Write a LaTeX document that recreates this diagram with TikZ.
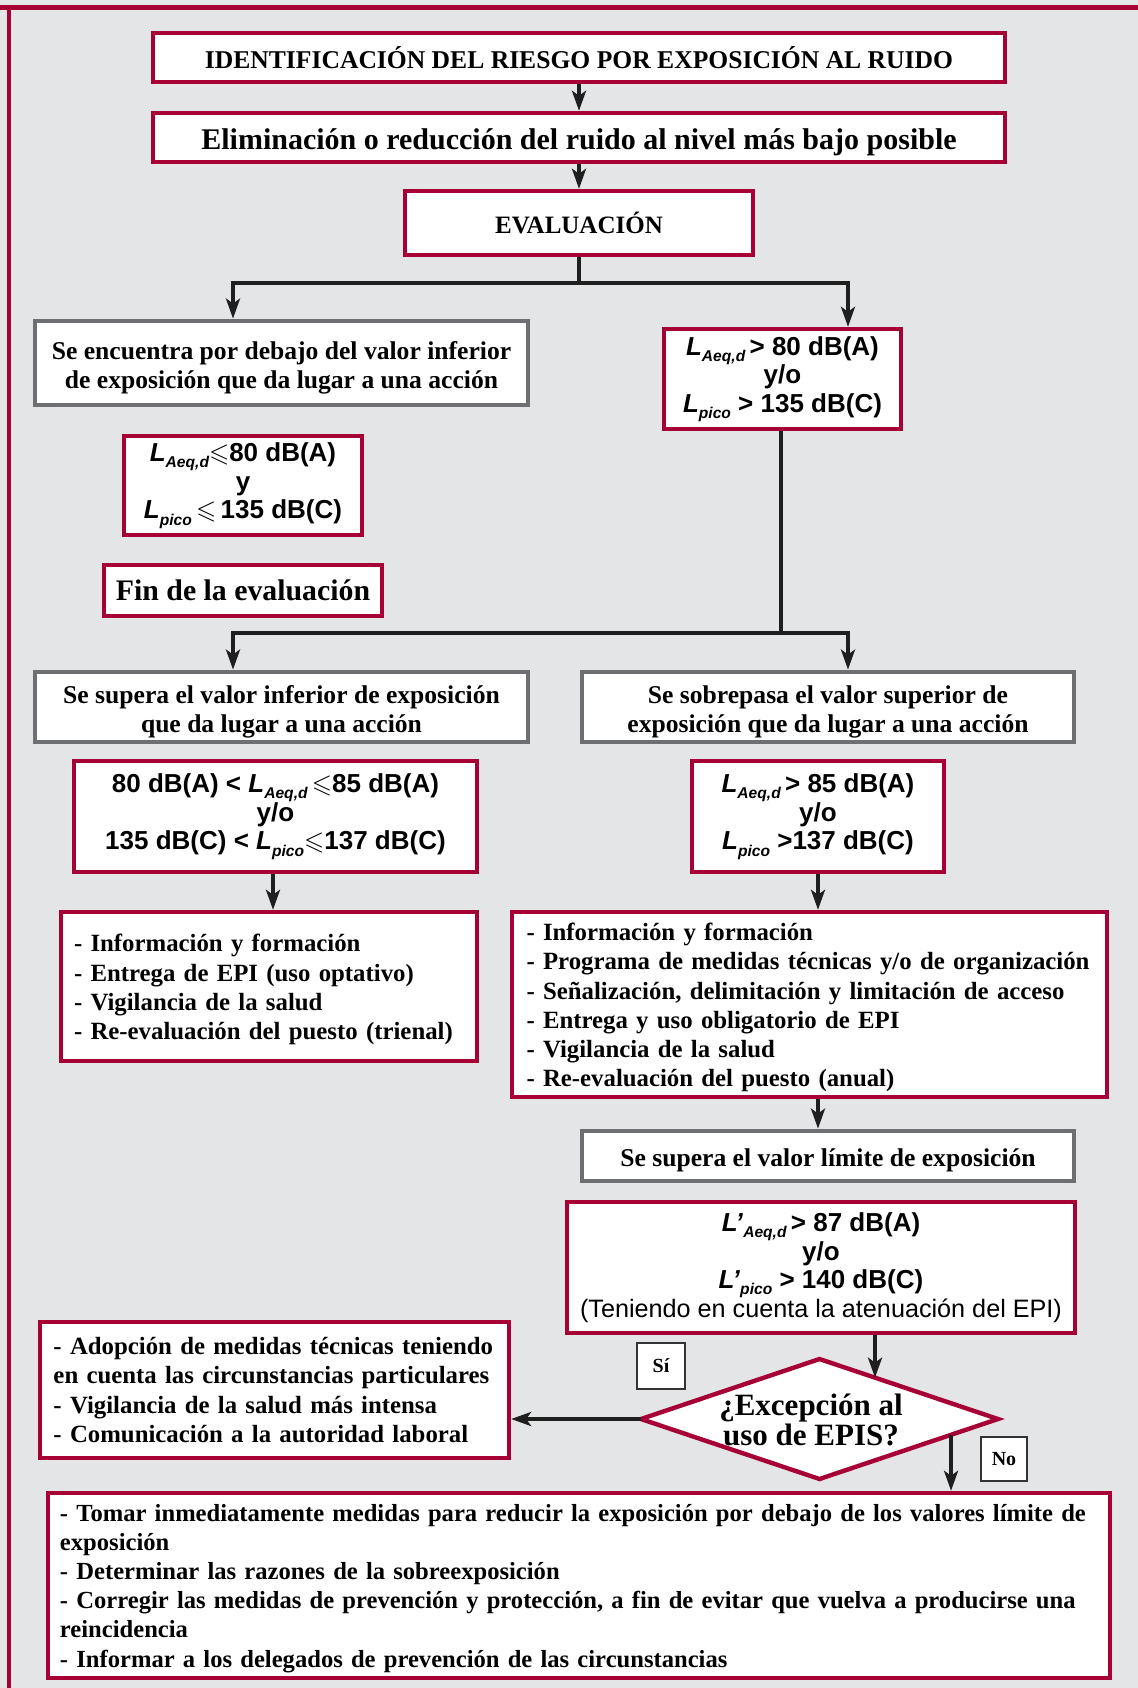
\documentclass[tikz,border=0pt]{standalone}
\usepackage{fontspec}
\usepackage{amssymb}
\setmainfont{Liberation Serif}
\newfontfamily\hv{Liberation Sans}
\usetikzlibrary{arrows.meta,shapes.geometric,calc}
\definecolor{rojo}{RGB}{166,0,52}
\definecolor{gris}{RGB}{110,111,115}
\definecolor{fondo}{RGB}{228,229,231}
\newcommand\Lsub[2]{\textit{#1}\raisebox{-0.45ex}{\fontsize{7.8}{8}\selectfont\itshape #2}}
\newcommand\mleq{$\leqslant$}
\newcommand\up[1]{\rule{0pt}{#1}}
\begin{document}
\begin{tikzpicture}[x=0.5pt,y=-0.5pt,
  redbox/.style={draw=rojo,line width=2.2pt,fill=white,inner sep=0pt,align=center},
  greybox/.style={draw=gris,line width=2.4pt,fill=white,inner sep=0pt,align=center,font=\bfseries\fontsize{12.8}{14.6}\selectfont},
  serif/.style={font=\bfseries\fontsize{12.4}{14.6}\selectfont},
  formula/.style={font=\hv\bfseries\fontsize{13}{14.3}\selectfont},
  listbox/.style={redbox,serif,align=left},
  conn/.style={line width=1.8pt,draw=black!88,line join=miter},
  arr/.style={conn,-{Stealth[length=10pt,width=7pt,inset=2.5pt]}},
  tagbox/.style={draw=black!80,line width=0.6pt,fill=white,inner sep=0pt,font=\bfseries\fontsize{10}{10}\selectfont}
]
\fill[fondo] (0,0) rectangle (1138,1688);
\useasboundingbox (0,0) rectangle (1138,1688);
\draw[rojo,line width=2.5pt] (0,7.5) -- (1138,7.5);
\draw[rojo,line width=2.2pt] (9,6) -- (9,1688);

% top chain
\node[redbox,minimum width=426pt,minimum height=24.5pt,font=\bfseries\fontsize{12.8}{14}\selectfont] (title) at (579,57.5)
  {IDENTIFICACIÓN DEL RIESGO POR EXPOSICIÓN AL RUIDO};
\node[redbox,minimum width=426pt,minimum height=24.5pt,font=\bfseries\fontsize{15}{16}\selectfont] (elim) at (579,137.5)
  {\up{14.8pt}Eliminación o reducción del ruido al nivel más bajo posible};
\node[redbox,minimum width=174pt,minimum height=32pt,font=\bfseries\fontsize{12.5}{14}\selectfont] (eval) at (579,223)
  {EVALUACIÓN};

% first split
\node[greybox,minimum width=246.5pt,minimum height=42pt] (grey1) at (281.5,363)
  {\up{14pt}Se encuentra por debajo del valor inferior\\de exposición que da lugar a una acción};
\node[redbox,formula,minimum width=118.5pt,minimum height=50pt] (red1) at (782.5,379)
  {\Lsub{L}{Aeq,d}\,> 80 dB(A)\\y/o\\\Lsub{L}{pico} > 135 dB(C)};
\node[redbox,formula,minimum width=119pt,minimum height=49.5pt] (red2) at (243,485.5)
  {\Lsub{L}{Aeq,d}\mleq80 dB(A)\\y\\\Lsub{L}{pico}\,\mleq\,135 dB(C)};
\node[redbox,minimum width=139pt,minimum height=25.5pt,font=\bfseries\fontsize{14.9}{16}\selectfont] (fin) at (243,590.5)
  {Fin de la evaluación};

% second split
\node[greybox,minimum width=246.5pt,minimum height=35pt] (grey2) at (281.5,707)
  {\up{13.5pt}Se supera el valor inferior de exposición\\que da lugar a una acción};
\node[greybox,minimum width=246pt,minimum height=35pt] (grey3) at (828,707)
  {\up{13.5pt}Se sobrepasa el valor superior de\\exposición que da lugar a una acción};
\node[redbox,formula,minimum width=201.5pt,minimum height=55.5pt] (red3) at (275.5,816.5)
  {80 dB(A) < \Lsub{L}{Aeq,d}\,\mleq85 dB(A)\\y/o\\135 dB(C) < \Lsub{L}{pico}\mleq137 dB(C)};
\node[redbox,formula,minimum width=126pt,minimum height=55.5pt] (red4) at (818,816.5)
  {\Lsub{L}{Aeq,d}\,> 85 dB(A)\\y/o\\\Lsub{L}{pico} >137 dB(C)};

\node[listbox,text width=195pt,inner xsep=6.5pt,minimum height=74.5pt] (list1) at (269,986.5)
  {\up{11.8pt}- Información y formación\\- Entrega de EPI (uso optativo)\\- Vigilancia de la salud\\- Re-evaluación del puesto (trienal)};
\node[listbox,text width=283pt,inner xsep=7.2pt,minimum height=92.5pt] (list2) at (809.5,1004.5)
  {\up{11.8pt}- Información y formación\\- Programa de medidas técnicas y/o de organización\\- Señalización, delimitación y limitación de acceso\\- Entrega y uso obligatorio de EPI\\- Vigilancia de la salud\\- Re-evaluación del puesto (anual)};

\node[greybox,minimum width=246pt,minimum height=25pt] (grey4) at (828,1156)
  {\up{13pt}Se supera el valor límite de exposición};
\node[redbox,formula,minimum width=254pt,minimum height=65.5pt] (red5) at (821,1267.5)
  {\Lsub{L’}{Aeq,d}\,> 87 dB(A)\\y/o\\\Lsub{L’}{pico} > 140 dB(C)\\{\mdseries\fontsize{12.6}{14}\selectfont (Teniendo en cuenta la atenuación del EPI)}};

% decision
\node[diamond,draw=rojo,line width=2.2pt,fill=white,inner sep=0pt,outer sep=0pt,minimum width=178.5pt,minimum height=60pt] (dia) at (819.5,1419) {};
\node[align=center,font=\bfseries\fontsize{15.5}{14.6}\selectfont] (diatext) at (811,1420) {¿Excepción al\\uso de EPIS?};
\node[tagbox,minimum width=24pt,minimum height=23pt] (si) at (661,1366) {Sí};
\node[tagbox,minimum width=23pt,minimum height=22pt] (no) at (1004,1459) {No};

\node[listbox,text width=221pt,inner xsep=6.7pt,minimum height=68pt] (list3) at (274.5,1390)
  {- Adopción de medidas técnicas teniendo\\en cuenta las circunstancias particulares\\- Vigilancia de la salud más intensa\\- Comunicación a la autoridad laboral};
\node[listbox,text width=519pt,inner xsep=6pt,minimum height=92.5pt,font=\bfseries\fontsize{12.3}{14.6}\selectfont] (bottom) at (579,1585.5)
  {\up{11.2pt}- Tomar inmediatamente medidas para reducir la exposición por debajo de los valores límite de\\exposición\\- Determinar las razones de la sobreexposición\\- Corregir las medidas de prevención y protección, a fin de evitar que vuelva a producirse una\\reincidencia\\- Informar a los delegados de prevención de las circunstancias};

% connectors
\draw[arr] (title) -- (elim);
\draw[arr] (elim) -- (eval);
\coordinate (j1) at (579,283);
\coordinate (j1l) at (233,283);
\coordinate (j1r) at (848,283);
\draw[conn] (eval.south) -- (j1);
\draw[arr] (j1) -- (j1l) -- (j1l |- grey1.north);
\draw[arr] (j1) -- (j1r) -- (j1r |- red1.north);

\coordinate (j2) at (781,633);
\coordinate (j2l) at (233,633);
\coordinate (j2r) at (848,633);
\draw[conn] (j2 |- red1.south) -- (j2);
\draw[arr] (j2) -- (j2l) -- (j2l |- grey2.north);
\draw[arr] (j2) -- (j2r) -- (j2r |- grey3.north);

\coordinate (c3) at (273,0);
\draw[arr] (c3 |- red3.south) -- (c3 |- list1.north);
\coordinate (c4) at (818,0);
\draw[arr] (c4 |- red4.south) -- (c4 |- list2.north);
\draw[arr] (c4 |- list2.south) -- (c4 |- grey4.north);

\coordinate (c5) at ($(dia.north)!0.311!(dia.east)$);
\draw[arr] (c5 |- red5.south) -- (c5);
\draw[arr] (dia.west) -- (dia.west -| list3.east);
\coordinate (n1) at ($(dia.east)!0.263!(dia.south)$);
\draw[arr] (n1) -- (n1 |- bottom.north);
\end{tikzpicture}
\end{document}
